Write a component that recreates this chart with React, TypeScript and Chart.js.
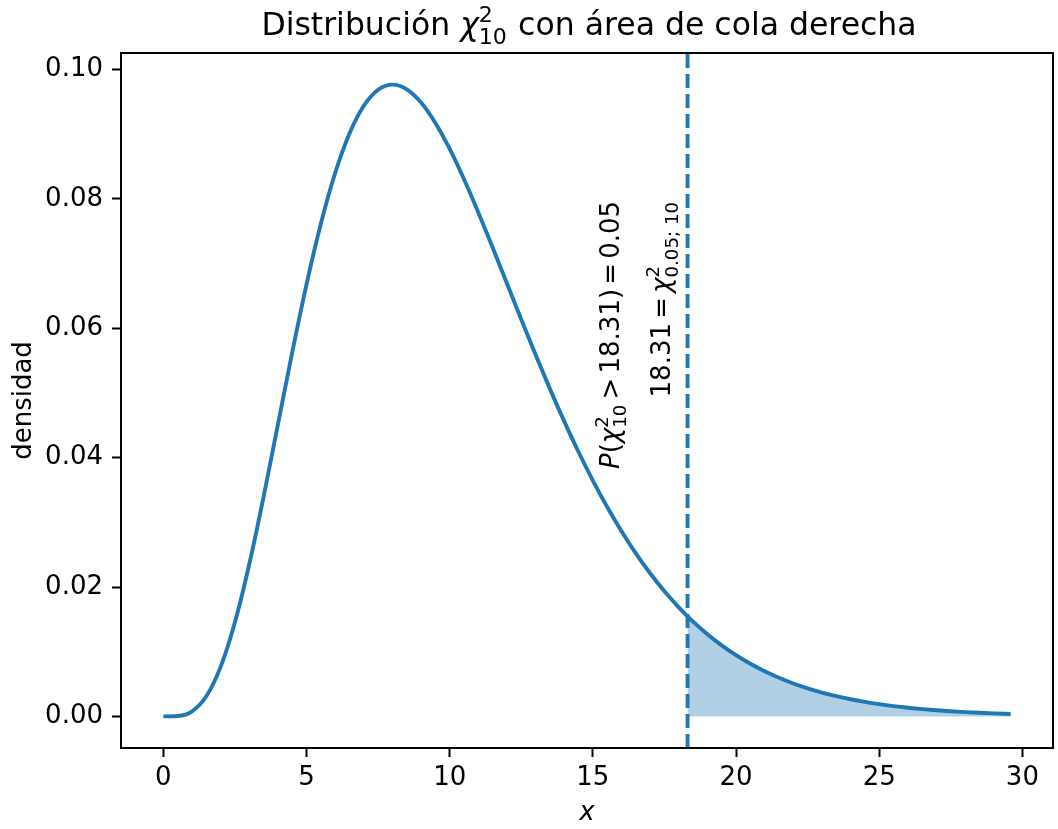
import React, { useEffect, useRef } from "react";
import { Chart, registerables } from "chart.js";

Chart.register(...registerables);

// ---- data ----
const CURVE_X = [
  0, 0.5, 1, 1.5, 2, 2.5, 3, 3.5, 4, 4.5, 5, 5.5, 6, 6.5, 7, 7.5, 8, 8.5, 9, 9.5,
  10, 10.5, 11, 11.5, 12, 12.5, 13, 13.5, 14, 14.5, 15, 15.5, 16, 16.5, 17, 17.5,
  18, 18.307, 18.5, 19, 19.5, 20, 20.5, 21, 21.5, 22, 22.5, 23, 23.5, 24, 24.5,
  25, 25.5, 26, 26.5, 27, 27.5, 28, 28.5, 29, 29.59,
];
const CURVE_Y = [
  0, 0.0000634, 0.00079, 0.003114, 0.007664, 0.014572, 0.023533, 0.033953,
  0.045112, 0.056276, 0.066801, 0.076169, 0.084016, 0.090122, 0.094406, 0.096891,
  0.097684, 0.096951, 0.094904, 0.091756, 0.087733, 0.083051, 0.07791, 0.072483,
  0.066927, 0.061369, 0.05591, 0.050639, 0.045613, 0.040876, 0.036457, 0.032373,
  0.028626, 0.025214, 0.022128, 0.019352, 0.016869, 0.015481, 0.014659, 0.012702,
  0.010975, 0.0094583, 0.0081307, 0.0069729, 0.0059665, 0.0050944, 0.0043406,
  0.0036911, 0.0031329, 0.0026543, 0.0022449, 0.0018955, 0.0015979, 0.0013449,
  0.0011303, 0.00094871, 0.0007951, 0.00066551, 0.00055631, 0.00046448, 0.00037483,
];
const CRIT = 18.307;
const X_TICKS = [0, 5, 10, 15, 20, 25, 30];
const Y_TICKS = [0, 0.02, 0.04, 0.06, 0.08, 0.1];
const X_RANGE = [-1.4795, 31.0695];
const Y_RANGE = [-0.004884, 0.102568];
const ANNOT_TOP_Y = 0.0797;
const ANNOT1_X = 15.57;
const ANNOT2_X = 17.38;

const BLUE = "#1f77b4";
const FONT = "'DejaVu Sans', sans-serif";

type Part = { t?: string; it?: boolean; sup?: string; sub?: string; gap?: number };

function partsWidth(ctx: CanvasRenderingContext2D, parts: Part[], fs: number) {
  let w = 0;
  for (const p of parts) {
    if (p.gap) {
      w += p.gap * fs;
      continue;
    }
    ctx.font = `${p.it ? "italic " : ""}${fs}px ${FONT}`;
    w += ctx.measureText(p.t || "").width;
    if (p.sup || p.sub) {
      ctx.font = `${fs * 0.7}px ${FONT}`;
      const a = p.sup ? ctx.measureText(p.sup).width : 0;
      const b = p.sub ? ctx.measureText(p.sub).width : 0;
      w += Math.max(a, b) + fs * 0.04;
    }
  }
  return w;
}

function drawParts(ctx: CanvasRenderingContext2D, parts: Part[], x: number, y: number, fs: number) {
  ctx.textBaseline = "alphabetic";
  ctx.textAlign = "left";
  ctx.fillStyle = "#000";
  let cx = x;
  for (const p of parts) {
    if (p.gap) {
      cx += p.gap * fs;
      continue;
    }
    ctx.font = `${p.it ? "italic " : ""}${fs}px ${FONT}`;
    ctx.fillText(p.t || "", cx, y);
    cx += ctx.measureText(p.t || "").width;
    if (p.sup || p.sub) {
      ctx.font = `${fs * 0.7}px ${FONT}`;
      let a = 0;
      let b = 0;
      if (p.sup) {
        ctx.fillText(p.sup, cx, y - fs * 0.42);
        a = ctx.measureText(p.sup).width;
      }
      if (p.sub) {
        ctx.fillText(p.sub, cx, y + fs * 0.3);
        b = ctx.measureText(p.sub).width;
      }
      cx += Math.max(a, b) + fs * 0.04;
    }
  }
}

const TITLE_PARTS: Part[] = [
  { t: "Distribución " },
  { t: "χ", it: true, sup: "2", sub: "10" },
  { t: " con área de cola derecha" },
];
const ANNOT1_PARTS: Part[] = [
  { t: "P", it: true },
  { t: "(" },
  { t: "χ", it: true, sup: "2", sub: "10" },
  { gap: 0.16 },
  { t: ">" },
  { gap: 0.16 },
  { t: "18.31)" },
  { gap: 0.16 },
  { t: "=" },
  { gap: 0.16 },
  { t: "0.05" },
];
const ANNOT2_PARTS: Part[] = [
  { t: "18.31" },
  { gap: 0.16 },
  { t: "=" },
  { gap: 0.16 },
  { t: "χ", it: true, sup: "2", sub: "0.05; 10" },
];

const decorPlugin = {
  id: "decor",
  beforeDatasetsDraw(chart: any) {
    const { ctx, chartArea, scales } = chart;
    const px = scales.x.getPixelForValue(CRIT);
    ctx.save();
    ctx.strokeStyle = BLUE;
    ctx.lineWidth = 3.9;
    ctx.setLineDash([14, 6]);
    ctx.beginPath();
    ctx.moveTo(px, chartArea.bottom);
    ctx.lineTo(px, chartArea.top);
    ctx.stroke();
    ctx.restore();
  },
  afterDraw(chart: any) {
    const { ctx, chartArea, scales } = chart;
    ctx.save();
    // frame
    ctx.strokeStyle = "#000";
    ctx.lineWidth = 2;
    ctx.strokeRect(chartArea.left, chartArea.top, chartArea.right - chartArea.left, chartArea.bottom - chartArea.top);
    // title
    const tfs = 31.5;
    const tw = partsWidth(ctx, TITLE_PARTS, tfs);
    const cxm = (chartArea.left + chartArea.right) / 2 + 2;
    drawParts(ctx, TITLE_PARTS, cxm - tw / 2, 35, tfs);
    // annotations (rotated, top-aligned at ANNOT_TOP_Y)
    const afs = 26;
    const topPx = scales.y.getPixelForValue(ANNOT_TOP_Y);
    const items: [Part[], number][] = [
      [ANNOT1_PARTS, ANNOT1_X],
      [ANNOT2_PARTS, ANNOT2_X],
    ];
    for (const [parts, xv] of items) {
      const w = partsWidth(ctx, parts, afs);
      const xp = scales.x.getPixelForValue(xv);
      ctx.save();
      ctx.translate(xp, topPx + w);
      ctx.rotate(-Math.PI / 2);
      drawParts(ctx, parts, 0, afs * 0.36, afs);
      ctx.restore();
    }
    ctx.restore();
  },
};

export default function App() {
  const ref = useRef<HTMLCanvasElement | null>(null);
  useEffect(() => {
    if (!ref.current) return;
    const curve = CURVE_X.map((x, i) => ({ x, y: CURVE_Y[i] }));
    const tail = curve.filter((p) => p.x >= CRIT);
    Chart.defaults.font.family = FONT;
    Chart.defaults.color = "#000";
    const chart = new Chart(ref.current, {
      type: "line",
      data: {
        datasets: [
          {
            data: curve,
            borderColor: BLUE,
            borderWidth: 3.9,
            pointRadius: 0,
            cubicInterpolationMode: "monotone",
            fill: false,
            order: 0,
          },
          {
            data: tail,
            borderWidth: 0,
            borderColor: "rgba(0,0,0,0)",
            backgroundColor: "rgba(31,119,180,0.35)",
            pointRadius: 0,
            cubicInterpolationMode: "monotone",
            fill: "origin",
            order: 1,
          },
        ],
      },
      options: {
        responsive: false,
        animation: false,
        layout: { padding: { top: 53, right: 5, left: 0, bottom: 0 } },
        plugins: {
          legend: { display: false },
          tooltip: { enabled: false },
          title: { display: false },
        },
        scales: {
          x: {
            type: "linear",
            min: X_RANGE[0],
            max: X_RANGE[1],
            afterBuildTicks: (s: any) => {
              s.ticks = X_TICKS.map((v) => ({ value: v }));
            },
            afterFit: (s: any) => {
              s.height = 81;
            },
            ticks: {
              font: { size: 26 },
              color: "#000",
              padding: 6,
              maxRotation: 0,
              callback: (v: any) => String(v),
            },
            grid: { display: true, drawOnChartArea: false, drawTicks: true, tickLength: 9, tickWidth: 2, color: "#000" },
            border: { display: false },
            title: { display: true, text: "x", font: { size: 26, style: "italic" }, color: "#000", padding: { top: 0, bottom: 0 } },
          },
          y: {
            type: "linear",
            min: Y_RANGE[0],
            max: Y_RANGE[1],
            afterBuildTicks: (s: any) => {
              s.ticks = Y_TICKS.map((v) => ({ value: v }));
            },
            afterFit: (s: any) => {
              s.width = 121;
            },
            ticks: {
              font: { size: 26 },
              color: "#000",
              padding: 9,
              callback: (v: any) => Number(v).toFixed(2),
            },
            grid: { display: true, drawOnChartArea: false, drawTicks: true, tickLength: 9, tickWidth: 2, color: "#000" },
            border: { display: false },
            title: { display: true, text: "densidad", font: { size: 26 }, color: "#000", padding: { top: 9, bottom: 0 } },
          },
        },
      },
      plugins: [decorPlugin],
    } as any);
    return () => chart.destroy();
  }, []);
  return (
    <div style={{ position: "fixed", left: 0, top: 0, width: 1058, height: 829, background: "#fff" }}>
      <canvas ref={ref} width={1058} height={829} style={{ display: "block" }} />
    </div>
  );
}
